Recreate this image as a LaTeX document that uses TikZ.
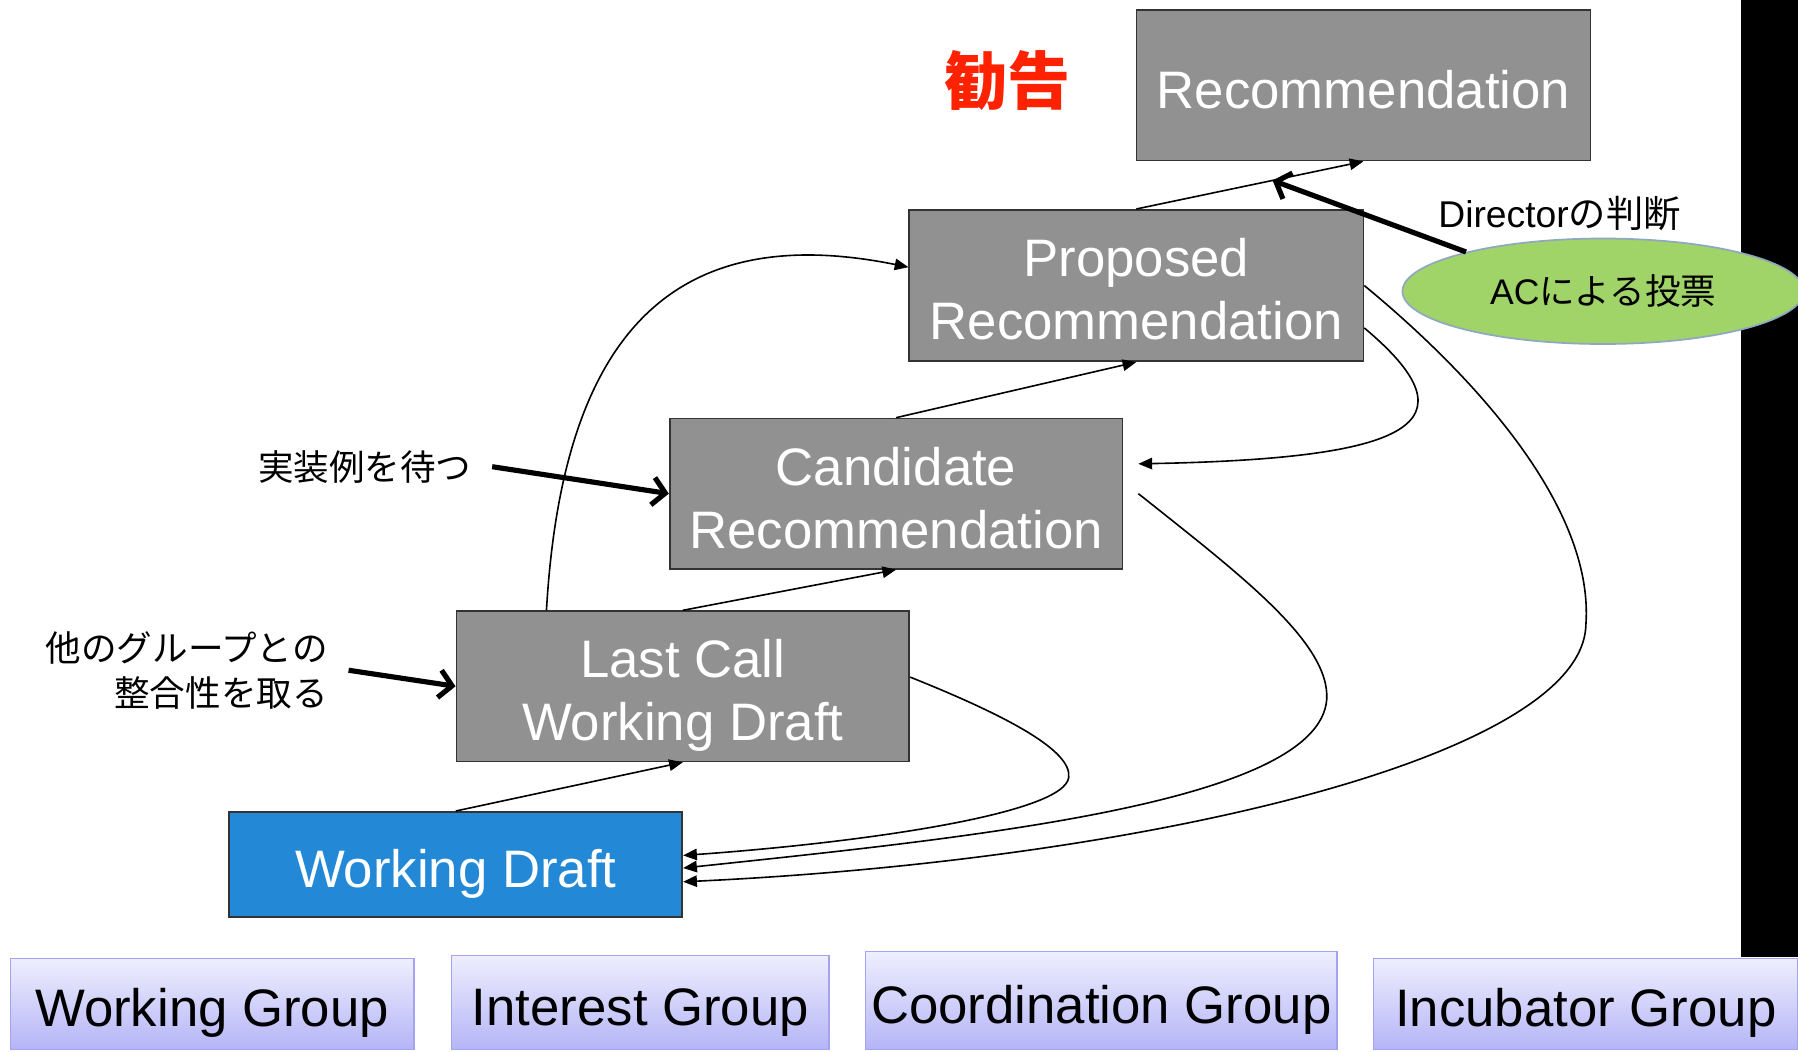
\documentclass[tikz,border=0pt]{standalone}
\usepackage{fontspec}
\setmainfont{Liberation Sans}
\newfontfamily\jp{Noto Sans CJK JP}
\usetikzlibrary{arrows.meta,shapes.geometric,calc}
\definecolor{boxgray}{HTML}{919191}
\definecolor{wdblue}{HTML}{2388D6}
\definecolor{votegreen}{HTML}{A0D468}
\definecolor{voteedge}{HTML}{8FA8BF}
\definecolor{kankoku}{HTML}{FF2200}
\definecolor{grptop}{HTML}{EEEEFE}
\definecolor{grpbot}{HTML}{B5B5F7}
\definecolor{grpedge}{HTML}{A3A3F0}
\begin{document}
\begin{tikzpicture}[x=1pt,y=-1pt,
  stage/.style={draw=black!80, line width=1.5pt, fill=boxgray, text=white,
    inner sep=0pt, align=center, font=\fontsize{46}{55}\selectfont},
  oneline/.style={text height=40pt, text depth=0pt},
  twolines/.style={text height=95pt, text depth=0pt},
  grp/.style={draw=grpedge, line width=1.2pt, top color=grptop, bottom color=grpbot,
    inner sep=0pt, text height=40pt, text depth=0pt, font=\fontsize{46}{55}\selectfont},
  flow/.style={line width=1.4pt, -{Triangle[length=12pt,width=10pt]}},
  push/.style={line width=4.5pt, -{Straight Barb[length=11pt,width=24pt]}},
  note/.style={inner sep=0pt, font=\jp\fontsize{31}{39}\selectfont}]

\useasboundingbox (0,0) rectangle (1568,917);
\clip (0,0) rectangle (1568,917);
\fill[white] (0,0) rectangle (1568,917);
\fill[black] (1518,0) rectangle (1568,835);

% maturity levels
\node[stage, oneline, minimum width=396pt, minimum height=131pt] (rec) at (1189,74.5) {Recommendation};
\node[stage, twolines, minimum width=396pt, minimum height=132pt] (pr) at (991,249) {Proposed\\Recommendation};
\node[stage, twolines, minimum width=395pt, minimum height=131pt] (cr) at (781.5,430.5) {Candidate\\Recommendation};
\node[stage, twolines, minimum width=395pt, minimum height=131pt] (lc) at (595.5,598.5) {Last Call\\Working Draft};
\node[stage, oneline, fill=wdblue, minimum width=395pt, minimum height=92pt] (wd) at (397.5,754) {Working Draft};

% labels
\node[text=kankoku, inner sep=0pt, font=\jp\bfseries\fontsize{55}{60}\selectfont] (title) at (879,70) {勧告};
\node[ellipse, draw=voteedge, line width=1.5pt, fill=votegreen, minimum width=350pt,
  minimum height=92pt, inner sep=0pt, font=\jp\fontsize{31}{36}\selectfont] (vote) at (1398,254) {{\rmfamily AC}による投票};
\node[note, font=\jp\fontsize{32.5}{39}\selectfont] (director) at (1360,186) {{\rmfamily Director}の判断};
\node[note] (wait) at (318,407) {実装例を待つ};
\node[note, align=right, anchor=east] (align) at (286,584.5) {他のグループとの\\整合性を取る};

% forward transitions
\draw[flow] (pr.north) -- (rec.south);
\draw[flow] (cr.north) -- (pr.south);
\draw[flow] (lc.north) -- (cr.south);
\draw[flow] (wd.north) -- (lc.south);
\draw[flow] ($(lc.north west)!0.2!(lc.north east)$) .. controls (490,300) and (580,190) .. ([yshift=16pt]pr.west);

% returns
\draw[flow] ([yshift=-37pt]pr.east) .. controls (1290,370) and (1230,400) .. ([xshift=13pt,yshift=26pt]cr.east);
\draw[flow] ([xshift=13pt]cr.east) .. controls (1080,500) and (1160,560) .. (1157,610)
  .. controls (1150,700) and (850,730) .. ([yshift=-3pt]wd.east);
\draw[flow] (pr.east) .. controls (1300,340) and (1390,450) .. (1383,545)
  .. controls (1380,660) and (1000,750) .. ([yshift=-15pt]wd.east);
\draw[flow] ([yshift=8pt]lc.east) .. controls (880,625) and (935,655) .. (932,678)
  .. controls (928,710) and (750,735) .. ([yshift=8pt]wd.east);

% conditions
\coordinate (dec) at ($(pr.north)!0.6!(rec.south)$);
\draw[push] (vote.164) -- (dec);
\draw[push] ([xshift=18pt]wait.east) -- (cr.west);
\draw[push] ([xshift=18pt]align.east) -- (lc.west);

% group types
\node[grp, minimum width=352pt, minimum height=79pt] (wg) at (185,875.5) {Working Group};
\node[grp, minimum width=329pt, minimum height=82pt] (ig) at (558.5,874) {Interest Group};
\node[grp, minimum width=411pt, minimum height=85pt] (cg) at (960.5,872.5) {Coordination Group};
\node[grp, minimum width=370pt, minimum height=79pt] (ib) at (1383,875.5) {Incubator Group};
\end{tikzpicture}
\end{document}
